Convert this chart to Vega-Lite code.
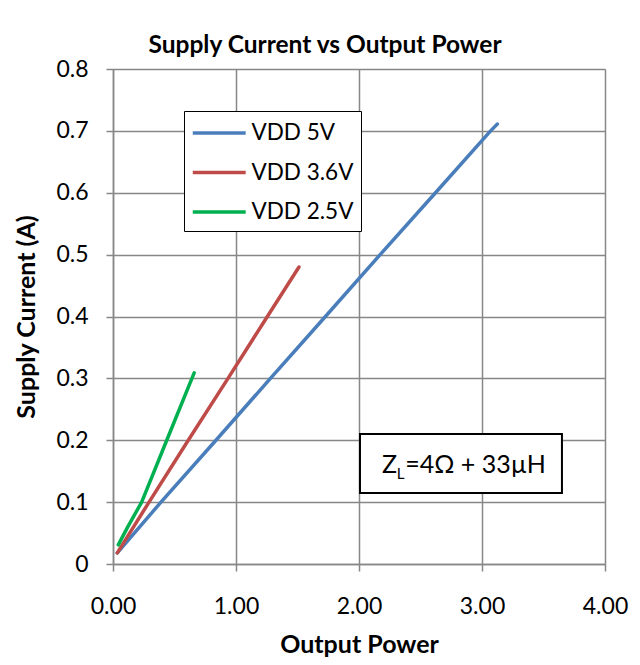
{
  "$schema": "https://vega.github.io/schema/vega-lite/v6.json",
  "width": 492,
  "height": 495,
  "autosize": {"type": "none"},
  "padding": {"left": 113, "top": 69, "right": 35, "bottom": 101},
  "background": "white",
  "config": {
    "font": "Lato",
    "view": {"stroke": null},
    "axis": {
      "labelFont": "Lato",
      "labelFontSize": 23,
      "labelColor": "black",
      "labelFlush": false,
      "labelOverlap": false,
      "titleFont": "Lato",
      "titleFontSize": 25,
      "titleFontWeight": "bold",
      "titleColor": "black",
      "gridColor": "#878787",
      "gridWidth": 1.5,
      "domainColor": "#878787",
      "domainWidth": 1.5,
      "tickColor": "#878787",
      "tickWidth": 1.5,
      "tickSize": 7
    }
  },
  "title": {
    "text": "Supply Current vs Output Power",
    "font": "Lato",
    "fontSize": 24.5,
    "fontWeight": "bold",
    "color": "black",
    "anchor": "middle",
    "dx": -34,
    "offset": 0
  },
  "datasets": {
    "curves": [
      {"series": "VDD 5V", "power": 0.035, "current": 0.018},
      {"series": "VDD 5V", "power": 0.39, "current": 0.1},
      {"series": "VDD 5V", "power": 0.837, "current": 0.2},
      {"series": "VDD 5V", "power": 1.28, "current": 0.3},
      {"series": "VDD 5V", "power": 1.727, "current": 0.4},
      {"series": "VDD 5V", "power": 2.172, "current": 0.5},
      {"series": "VDD 5V", "power": 2.622, "current": 0.6},
      {"series": "VDD 5V", "power": 3.07, "current": 0.7},
      {"series": "VDD 5V", "power": 3.125, "current": 0.711},
      {"series": "VDD 3.6V", "power": 0.035, "current": 0.018},
      {"series": "VDD 3.6V", "power": 0.293, "current": 0.1},
      {"series": "VDD 3.6V", "power": 0.612, "current": 0.2},
      {"series": "VDD 3.6V", "power": 0.935, "current": 0.3},
      {"series": "VDD 3.6V", "power": 1.255, "current": 0.4},
      {"series": "VDD 3.6V", "power": 1.512, "current": 0.48},
      {"series": "VDD 2.5V", "power": 0.043, "current": 0.031},
      {"series": "VDD 2.5V", "power": 0.12, "current": 0.06},
      {"series": "VDD 2.5V", "power": 0.233, "current": 0.1},
      {"series": "VDD 2.5V", "power": 0.437, "current": 0.2},
      {"series": "VDD 2.5V", "power": 0.66, "current": 0.309}
    ]
  },
  "layer": [
    {
      "data": {"name": "curves"},
      "mark": {"type": "line", "strokeWidth": 3.5, "strokeCap": "round", "strokeJoin": "round", "clip": true},
      "encoding": {
        "x": {
          "field": "power", "type": "quantitative",
          "scale": {"domain": [0, 4], "nice": false, "zero": true},
          "axis": {"values": [0, 1, 2, 3, 4], "format": ".2f", "title": "Output Power", "labelPadding": 24, "titlePadding": 14}
        },
        "y": {
          "field": "current", "type": "quantitative",
          "scale": {"domain": [0, 0.8], "nice": false},
          "axis": {"values": [0, 0.1, 0.2, 0.3, 0.4, 0.5, 0.6, 0.7, 0.8], "format": ".1~f", "title": "Supply Current (A)", "labelPadding": 18, "titlePadding": 16}
        },
        "color": {
          "field": "series", "type": "nominal",
          "scale": {"domain": ["VDD 5V", "VDD 3.6V", "VDD 2.5V"], "range": ["#4A7EBB", "#BE4B48", "#00B050"]},
          "legend": {
            "title": null,
            "orient": "none",
            "legendX": 71,
            "legendY": 42,
            "symbolType": "M-1,0H3",
            "symbolSize": 700,
            "symbolStrokeWidth": 3.5,
            "labelFont": "Lato",
            "labelFontSize": 22.5,
            "labelColor": "black",
            "labelOffset": 30.5,
            "rowPadding": 12.5,
            "padding": 7,
            "strokeColor": "black",
            "fillColor": "white"
          }
        },
        "order": {"field": "power", "type": "quantitative"}
      }
    },
    {
      "data": {"values": [{}]},
      "mark": {"type": "rect", "fill": "white", "stroke": "black", "strokeWidth": 2},
      "encoding": {
        "x": {"datum": 2.008, "type": "quantitative"},
        "x2": {"datum": 3.65},
        "y": {"datum": 0.21, "type": "quantitative"},
        "y2": {"datum": 0.1147}
      }
    },
    {
      "data": {"values": [{}]},
      "mark": {"type": "text", "text": "Z", "align": "left", "baseline": "alphabetic", "fontSize": 25, "font": "Lato", "color": "black"},
      "encoding": {
        "x": {"datum": 2.187, "type": "quantitative"},
        "y": {"datum": 0.147, "type": "quantitative"}
      }
    },
    {
      "data": {"values": [{}]},
      "mark": {"type": "text", "text": "L", "align": "left", "baseline": "alphabetic", "fontSize": 15, "font": "Lato", "color": "black"},
      "encoding": {
        "x": {"datum": 2.307, "type": "quantitative"},
        "y": {"datum": 0.137, "type": "quantitative"}
      }
    },
    {
      "data": {"values": [{}]},
      "mark": {"type": "text", "text": "=4Ω + 33µH", "align": "left", "baseline": "alphabetic", "fontSize": 25, "font": "Lato", "color": "black"},
      "encoding": {
        "x": {"datum": 2.375, "type": "quantitative"},
        "y": {"datum": 0.147, "type": "quantitative"}
      }
    }
  ]
}
